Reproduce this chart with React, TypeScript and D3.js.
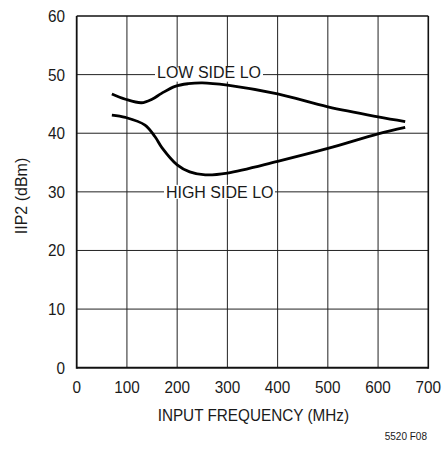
import React from "react";
import * as d3 from "d3";

const xTicks = [0, 100, 200, 300, 400, 500, 600, 700];
const yTicks = [0, 10, 20, 30, 40, 50, 60];

const lowSideFreq = [70, 97, 129, 150, 169, 196, 222, 250, 300, 400, 500, 600, 654];
const lowSideIIP2 = [46.7, 45.8, 45.2, 45.8, 46.8, 48.0, 48.45, 48.6, 48.2, 46.7, 44.5, 42.8, 42.0];

const highSideFreq = [70, 97, 136, 156, 170, 200, 225, 256, 300, 400, 500, 600, 654];
const highSideIIP2 = [43.1, 42.7, 41.4, 39.4, 37.5, 34.6, 33.4, 32.9, 33.2, 35.2, 37.4, 39.9, 41.0];

const curveLabels = ["LOW SIDE LO", "HIGH SIDE LO"];

export default function App() {
  const W = 443, H = 449;
  const left = 76.7, right = 428.3, top = 16, bottom = 367.7;
  const x = d3.scaleLinear().domain([0, 700]).range([left, right]);
  const y = d3.scaleLinear().domain([0, 60]).range([bottom, top]);
  const line = d3
    .line<[number, number]>()
    .x((d) => x(d[0]))
    .y((d) => y(d[1]))
    .curve(d3.curveCatmullRom.alpha(0.5));
  const low = lowSideFreq.map((f, i) => [f, lowSideIIP2[i]] as [number, number]);
  const high = highSideFreq.map((f, i) => [f, highSideIIP2[i]] as [number, number]);
  const font = "Arial, 'Liberation Sans', Helvetica, sans-serif";
  const ink = "#1a1a1a";

  return (
    <svg width={W} height={H} style={{ position: "absolute", left: 0, top: 0, background: "#fff" }} fontFamily={font}>
      <rect x={0} y={0} width={W} height={H} fill="#fff" />
      {xTicks.slice(1, -1).map((t) => (
        <line key={"vx" + t} x1={x(t)} x2={x(t)} y1={top} y2={bottom} stroke="#222" strokeWidth={1} />
      ))}
      {yTicks.slice(1, -1).map((t) => (
        <line key={"hy" + t} x1={left} x2={right} y1={y(t)} y2={y(t)} stroke="#222" strokeWidth={1} />
      ))}
      <rect x={155} y={y(50) - 7} width={108} height={14} fill="#fff" />
      <rect x={164} y={y(30) - 7} width={111} height={14} fill="#fff" />
      <text x={209} y={77.5} textAnchor="middle" fontSize={16} fill={ink}>
        {curveLabels[0]}
      </text>
      <text x={219.7} y={197.5} textAnchor="middle" fontSize={16} fill={ink}>
        {curveLabels[1]}
      </text>
      <line x1={left} x2={left} y1={top} y2={bottom + 1} stroke="#111" strokeWidth={1.8} />
      <line x1={left} x2={right} y1={bottom} y2={bottom} stroke="#111" strokeWidth={2} />
      <line x1={right} x2={right} y1={top} y2={bottom + 1} stroke="#111" strokeWidth={1.6} />
      <line x1={left} x2={right} y1={top} y2={top} stroke="#111" strokeWidth={1.4} />
      <path d={line(low) || ""} fill="none" stroke="#000" strokeWidth={2.8} />
      <path d={line(high) || ""} fill="none" stroke="#000" strokeWidth={2.8} />
      {yTicks.map((t) => (
        <text key={"yl" + t} transform={`translate(65,${y(t) + 6}) scale(0.9,1)`} textAnchor="end" fontSize={17} fill={ink}>
          {t}
        </text>
      ))}
      {xTicks.map((t) => (
        <text key={"xl" + t} transform={`translate(${x(t)},393) scale(0.9,1)`} textAnchor="middle" fontSize={17} fill={ink}>
          {t}
        </text>
      ))}
      <text transform="translate(253.3,421) scale(0.9,1)" textAnchor="middle" fontSize={17} fill={ink}>
        INPUT FREQUENCY (MHz)
      </text>
      <text transform="translate(27,196) rotate(-90)" textAnchor="middle" fontSize={16} fill={ink}>
        IIP2 (dBm)
      </text>
      <text x={427} y={440} textAnchor="end" fontSize={10} fill={ink}>
        5520 F08
      </text>
    </svg>
  );
}
